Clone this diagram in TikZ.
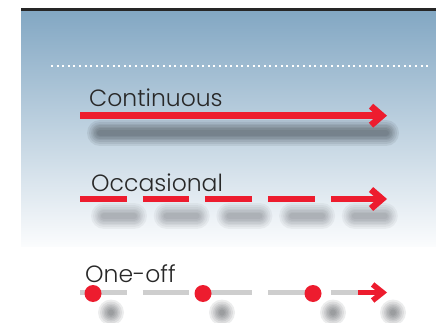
\documentclass[tikz,border=0pt]{standalone}
\usepackage{fontspec}
\setmainfont{Poppins}[UprightFont=* Light]
\usetikzlibrary{arrows.meta}

\definecolor{legendred}{RGB}{237,28,46}
\definecolor{paneltop}{RGB}{130,167,195}
\definecolor{panelbottom}{RGB}{251,252,253}
\definecolor{trackgray}{RGB}{206,206,206}
\definecolor{labeltext}{RGB}{40,40,40}
\definecolor{shadowgray}{RGB}{40,44,50}

\tikzset{
  redline/.style={draw=legendred, line width=6.5pt},
  thinred/.style={draw=legendred, line width=5.5pt},
  barb/.style={-{Straight Barb[length=11pt,width=19pt]}},
  smallbarb/.style={-{Straight Barb[length=10pt,width=16pt]}},
  legendlabel/.style={font=\fontsize{23.5}{23.5}\selectfont, text=labeltext,
    anchor=base west, inner sep=0pt},
  reddot/.style={circle, fill=legendred, minimum size=17pt, inner sep=0pt},
  legenddash/.style={dash pattern=on 46.5pt off 16.2pt},
}

% soft (blurred) stroke built from stacked translucent strokes
\newcommand\blurline[3][0.1]{%
  \foreach \w in {26,22,18,15,12,9,6}{%
    \draw[line cap=round, line width=\w pt, draw=shadowgray, draw opacity=#1] #2;}}
% soft round blob
\newcommand\blurdot[2][0.1]{%
  \foreach \r in {13,11,9,7.5,6,4.5,3}{%
    \fill[shadowgray, fill opacity=#1] #2 circle (\r pt);}}

\begin{document}
\begin{tikzpicture}[x=1pt,y=-1pt]
  \useasboundingbox (0,0) rectangle (436,323);

  % background panel with fading blue
  \shade[top color=paneltop, bottom color=panelbottom] (21,10) rectangle (436,246);
  \draw[line width=2.6pt, black!85] (21,9.6) -- (436,9.6);
  \draw[white, line width=2pt, dash pattern=on 2pt off 3.6pt] (51,66) -- (430,66);

  % ---- Continuous ----
  \blurline[0.085]{(100,133) -- (386,133)}
  \blurdot[0.09]{(392,133)}
  \coordinate (cs) at (80,115.7);
  \coordinate (ce) at (387,115.7);
  \draw[redline, barb] (cs) -- (ce);
  \node[legendlabel] (lcont) at (89,107) {Continuous};

  % ---- Occasional ----
  \blurline[0.05]{[dash pattern=on 30pt off 32.7pt] (104,216) -- (390,216)}
  \blurdot[0.08]{(393,216)}
  \coordinate (os) at (80,199);
  \coordinate (om) at (315,199);
  \coordinate (ot) at (331,199);
  \coordinate (oe) at (387,199);
  \draw[redline, legenddash] (os) -- (om);
  \draw[redline, barb] (ot) -- (oe);
  \node[legendlabel] (locc) at (91,191) {Occasional};

  % ---- One-off ----
  \foreach \x in {111,222,333,393}{\blurdot[0.085]{(\x,312.5)}}
  \coordinate (gs) at (80,292.5);
  \coordinate (gm) at (358,292.5);
  \coordinate (ge) at (387,292.5);
  \draw[trackgray, line width=5pt, legenddash] (gs) -- (gm);
  \draw[thinred, smallbarb] (gm) -- (ge);
  \node[reddot] (d1) at (93,293.5) {};
  \node[reddot] (d2) at (203,293.5) {};
  \node[reddot] (d3) at (313,293.5) {};
  \node[legendlabel] (lone) at (85,282.7) {One-off};
\end{tikzpicture}
\end{document}
